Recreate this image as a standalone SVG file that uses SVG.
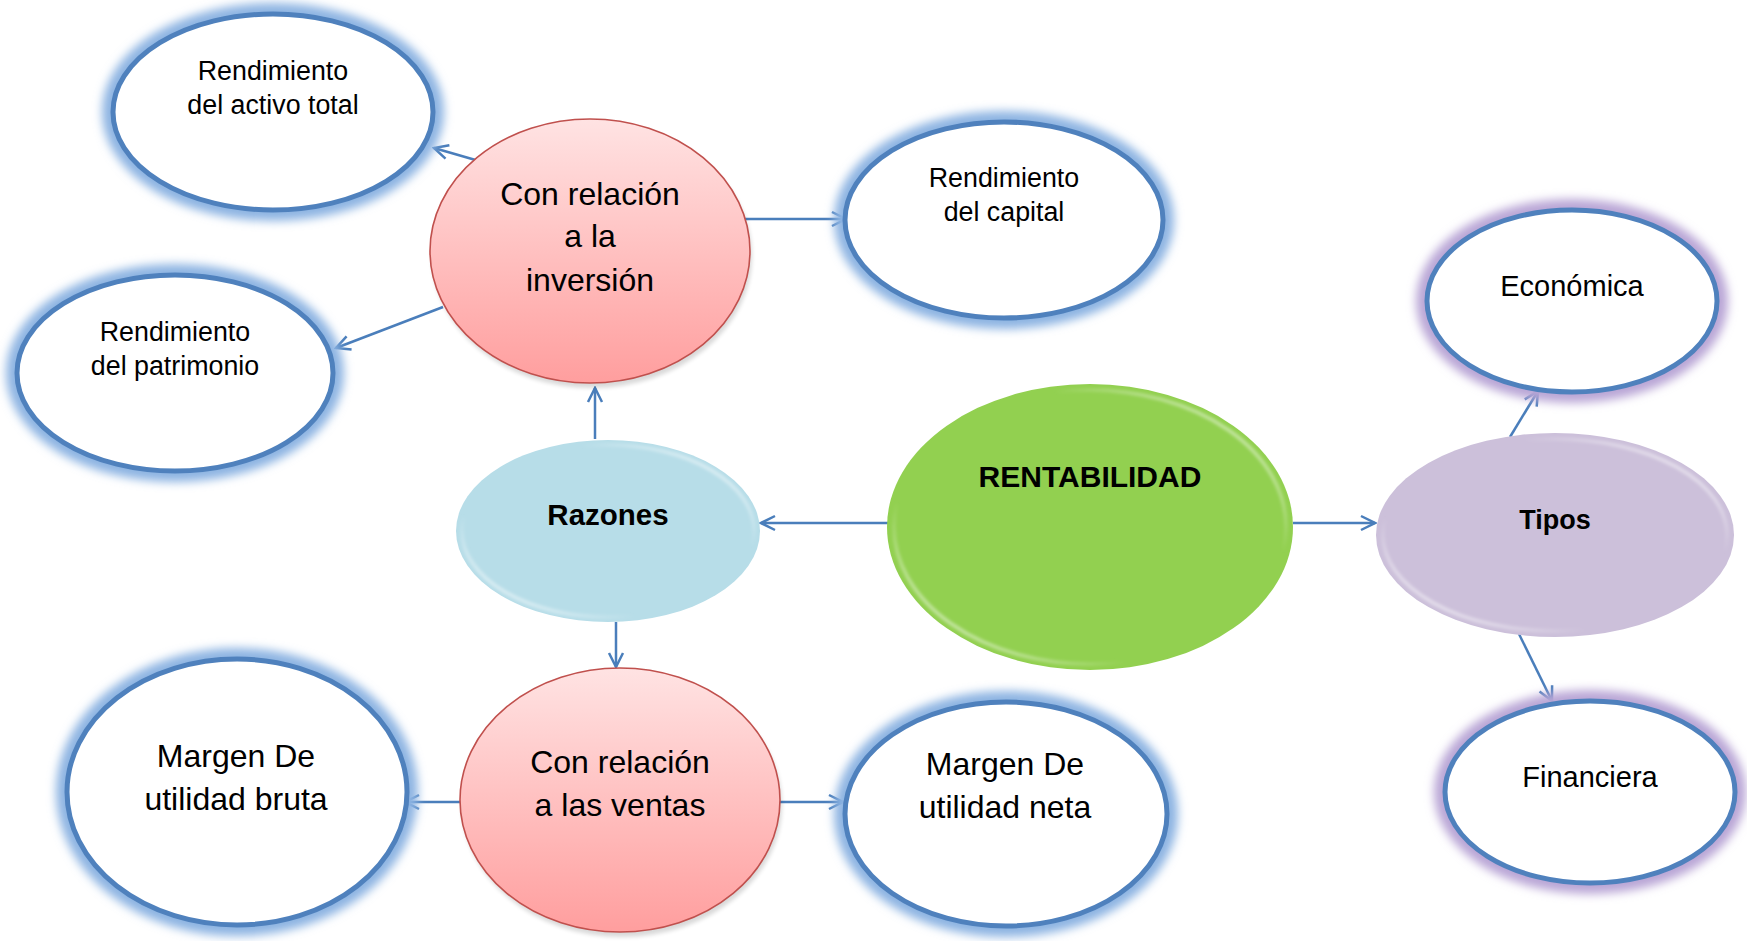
<svg xmlns="http://www.w3.org/2000/svg" width="1747" height="941" viewBox="0 0 1747 941">
<defs>
<style>
.t{font-family:"Liberation Sans",Arial,sans-serif;fill:#000;text-anchor:middle}
.s{font-size:26.8px}
.m{font-size:29px}
.l{font-size:32px}
.b{font-weight:bold}
.box{fill:#fff;stroke:#4F81BD;stroke-width:5}
.gb{fill:none;stroke:#8DB4E2;stroke-width:22;filter:url(#blur)}
.gp{fill:none;stroke:#B9A6D6;stroke-width:22;filter:url(#blur)}
.red{fill:url(#redg);stroke:#C0504D;stroke-width:1.6}
.bev{fill:none;stroke:url(#bevg);stroke-width:4;filter:url(#blur1)}
.c{fill:none;stroke:#4A7EBB;stroke-width:2.5;marker-end:url(#ah)}
</style>
<filter id="blur" x="-20%" y="-20%" width="140%" height="140%"><feGaussianBlur stdDeviation="5"/></filter>
<filter id="blur1" x="-10%" y="-10%" width="120%" height="120%"><feGaussianBlur stdDeviation="1.5"/></filter>
<filter id="shadow" x="-10%" y="-10%" width="120%" height="130%"><feGaussianBlur stdDeviation="2"/></filter>
<linearGradient id="redg" x1="0" y1="0" x2="0" y2="1">
<stop offset="0" stop-color="#FFE3E3"/>
<stop offset="1" stop-color="#FF9E9E"/>
</linearGradient>
<linearGradient id="bevg" x1="0" y1="1" x2="1" y2="0">
<stop offset="0" stop-color="#fff" stop-opacity="0.8"/>
<stop offset="0.3" stop-color="#fff" stop-opacity="0"/>
<stop offset="0.7" stop-color="#fff" stop-opacity="0"/>
<stop offset="1" stop-color="#fff" stop-opacity="0.8"/>
</linearGradient>
<marker id="ah" viewBox="0 0 18 18" refX="16" refY="9" markerWidth="18" markerHeight="18" markerUnits="userSpaceOnUse" orient="auto">
<path d="M2,2 L16,9 L2,16" fill="none" stroke="#4A7EBB" stroke-width="2.5"/>
</marker>
</defs>

<g id="connectors">
<line class="c" x1="479" y1="161" x2="434" y2="148"/>
<line class="c" x1="443" y1="307" x2="336" y2="348"/>
<line class="c" x1="742" y1="219" x2="846" y2="219"/>
<line class="c" x1="595" y1="439" x2="595" y2="388"/>
<line class="c" x1="888" y1="523" x2="761" y2="523"/>
<line class="c" x1="616" y1="622" x2="616" y2="667"/>
<line class="c" x1="460" y1="802" x2="405" y2="802"/>
<line class="c" x1="780" y1="802" x2="843" y2="802"/>
<line class="c" x1="1293" y1="523" x2="1375" y2="523"/>
<line class="c" x1="1510" y1="437" x2="1538" y2="391"/>
<line class="c" x1="1519" y1="634" x2="1552" y2="701"/>
</g>

<g id="activo-total">
<ellipse class="gb" cx="273" cy="112" rx="160" ry="98"/>
<ellipse class="box" cx="273" cy="112" rx="160" ry="98"/>
<text class="t s" x="273" y="80">Rendimiento</text>
<text class="t s" x="273" y="114">del activo total</text>
</g>

<g id="capital">
<ellipse class="gb" cx="1004" cy="220" rx="159" ry="98"/>
<ellipse class="box" cx="1004" cy="220" rx="159" ry="98"/>
<text class="t s" x="1004" y="187">Rendimiento</text>
<text class="t s" x="1004" y="221">del capital</text>
</g>

<g id="patrimonio">
<ellipse class="gb" cx="175" cy="373" rx="158" ry="98"/>
<ellipse class="box" cx="175" cy="373" rx="158" ry="98"/>
<text class="t s" x="175" y="341">Rendimiento</text>
<text class="t s" x="175" y="375">del patrimonio</text>
</g>

<g id="inversion">
<ellipse cx="592" cy="256" rx="160" ry="132" fill="#000" opacity="0.15" filter="url(#shadow)"/>
<ellipse class="red" cx="590" cy="251" rx="160" ry="132"/>
<text class="t l" x="590" y="205">Con relación</text>
<text class="t l" x="590" y="247">a la</text>
<text class="t l" x="590" y="291">inversión</text>
</g>

<g id="razones">
<ellipse cx="608" cy="531" rx="152" ry="91" fill="#B7DDE8"/>
<ellipse class="bev" cx="608" cy="531" rx="146" ry="86"/>
<text class="t b" style="font-size:29.5px" x="608" y="525">Razones</text>
</g>

<g id="rentabilidad">
<ellipse cx="1090" cy="527" rx="203" ry="143" fill="#92D050"/>
<ellipse class="bev" cx="1090" cy="527" rx="196" ry="137"/>
<text class="t b" style="font-size:30px" x="1090" y="487">RENTABILIDAD</text>
</g>

<g id="tipos">
<ellipse cx="1555" cy="535" rx="179" ry="102" fill="#CCC0DA"/>
<ellipse class="bev" cx="1555" cy="535" rx="172" ry="96"/>
<text class="t b" style="font-size:27px" x="1555" y="529">Tipos</text>
</g>

<g id="economica">
<ellipse class="gp" cx="1572" cy="301" rx="145" ry="91"/>
<ellipse class="box" cx="1572" cy="301" rx="145" ry="91"/>
<text class="t m" x="1572" y="296">Económica</text>
</g>

<g id="financiera">
<ellipse class="gp" cx="1590" cy="792" rx="145" ry="91"/>
<ellipse class="box" cx="1590" cy="792" rx="145" ry="91"/>
<text class="t m" x="1590" y="787">Financiera</text>
</g>

<g id="ventas">
<ellipse cx="622" cy="805" rx="160" ry="132" fill="#000" opacity="0.15" filter="url(#shadow)"/>
<ellipse class="red" cx="620" cy="800" rx="160" ry="132"/>
<text class="t l" x="620" y="773">Con relación</text>
<text class="t l" x="620" y="816">a las ventas</text>
</g>

<g id="margen-bruta">
<ellipse class="gb" cx="237" cy="792" rx="170" ry="133"/>
<ellipse class="box" cx="237" cy="792" rx="170" ry="133"/>
<text class="t l" x="236" y="767">Margen De</text>
<text class="t l" x="236" y="810">utilidad bruta</text>
</g>

<g id="margen-neta">
<ellipse class="gb" cx="1006" cy="814" rx="161" ry="112"/>
<ellipse class="box" cx="1006" cy="814" rx="161" ry="112"/>
<text class="t l" x="1005" y="775">Margen De</text>
<text class="t l" x="1005" y="818">utilidad neta</text>
</g>
</svg>
